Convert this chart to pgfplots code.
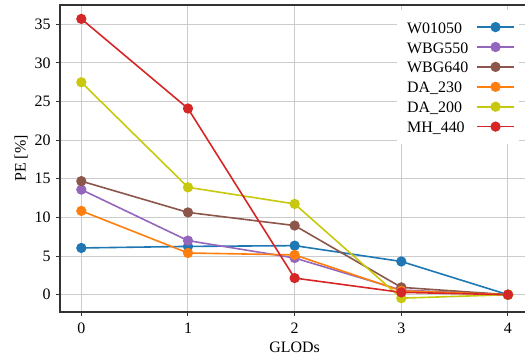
\documentclass[border=0pt]{standalone}
\usepackage{pgfplots}
\pgfplotsset{compat=1.18}
\usepackage{fontspec}
\setmainfont{Liberation Serif}
\definecolor{cBlue}{HTML}{1F77B4}
\definecolor{cPurple}{HTML}{9467BD}
\definecolor{cBrown}{HTML}{8C564B}
\definecolor{cOrange}{HTML}{FF7F0E}
\definecolor{cOlive}{RGB}{200,200,15}
\definecolor{cRed}{HTML}{D62728}
\definecolor{cGrid}{RGB}{204,204,204}
\begin{document}
\begin{tikzpicture}
\begin{axis}[
  at={(0bp,0bp)}, anchor=south west,
  scale only axis,
  width=469.3bp, height=307bp,
  xmin=-0.2, xmax=4.2,
  ymin=-2.24, ymax=37.5,
  xtick={0,1,2,3,4},
  ytick={0,5,10,15,20,25,30,35},
  tick pos=left,
  tick align=outside,
  major tick length=4bp,
  every tick/.style={black!80, line width=1bp},
  axis line style={black!80, line width=1.3bp},
  grid=major,
  major grid style={cGrid, line width=1bp},
  /pgf/number format/assume math mode=true,
  tick label style={font=\fontsize{16}{19}\selectfont},
  label style={font=\fontsize{16}{19}\selectfont},
  xticklabel style={yshift=-3bp},
  yticklabel style={xshift=-2bp},
  xlabel={GLODs},
  ylabel={PE [\%]},
  xlabel style={yshift=-2bp},
  ylabel style={yshift=0bp},
  legend plot pos=right,
  legend cell align=left,
  legend style={
    at={(0.718,0.984)}, anchor=north west,
    draw=none, fill=white,
    inner xsep=4bp, inner ysep=9bp,
    row sep=3.9bp, column sep=2bp,
    font=\fontsize{16}{19}\selectfont,
    nodes={inner xsep=6bp, inner ysep=2bp, text height=12bp, text depth=0bp},
  },
  legend image code/.code={\draw[#1, mark repeat=2, mark phase=2] plot coordinates {(0bp,0bp)(18.5bp,0bp)(37bp,0bp)};},
  every axis plot/.append style={line width=1.6bp, mark=*, mark size=4.3bp},
]
\addplot[cBlue, mark options={fill=cBlue, draw=cBlue}] coordinates {(0,6.05)(1,6.25)(2,6.35)(3,4.3)(4,0)};
\addlegendentry{W01050}
\addplot[cPurple, mark options={fill=cPurple, draw=cPurple}] coordinates {(0,13.6)(1,7.0)(2,4.75)(3,0.6)(4,0)};
\addlegendentry{WBG550}
\addplot[cBrown, mark options={fill=cBrown, draw=cBrown}] coordinates {(0,14.7)(1,10.65)(2,8.95)(3,0.95)(4,0)};
\addlegendentry{WBG640}
\addplot[cOrange, mark options={fill=cOrange, draw=cOrange}] coordinates {(0,10.85)(1,5.4)(2,5.15)(3,0.5)(4,0)};
\addlegendentry{DA\_230}
\addplot[cOlive, mark options={fill=cOlive, draw=cOlive}] coordinates {(0,27.5)(1,13.9)(2,11.75)(3,-0.45)(4,0)};
\addlegendentry{DA\_200}
\addplot[cRed, mark options={fill=cRed, draw=cRed}] coordinates {(0,35.7)(1,24.1)(2,2.15)(3,0.3)(4,0)};
\addlegendentry{MH\_440}
\end{axis}
\pgfresetboundingbox
\useasboundingbox (-60bp,-48bp) rectangle (465bp,312bp);
\end{tikzpicture}
\end{document}
